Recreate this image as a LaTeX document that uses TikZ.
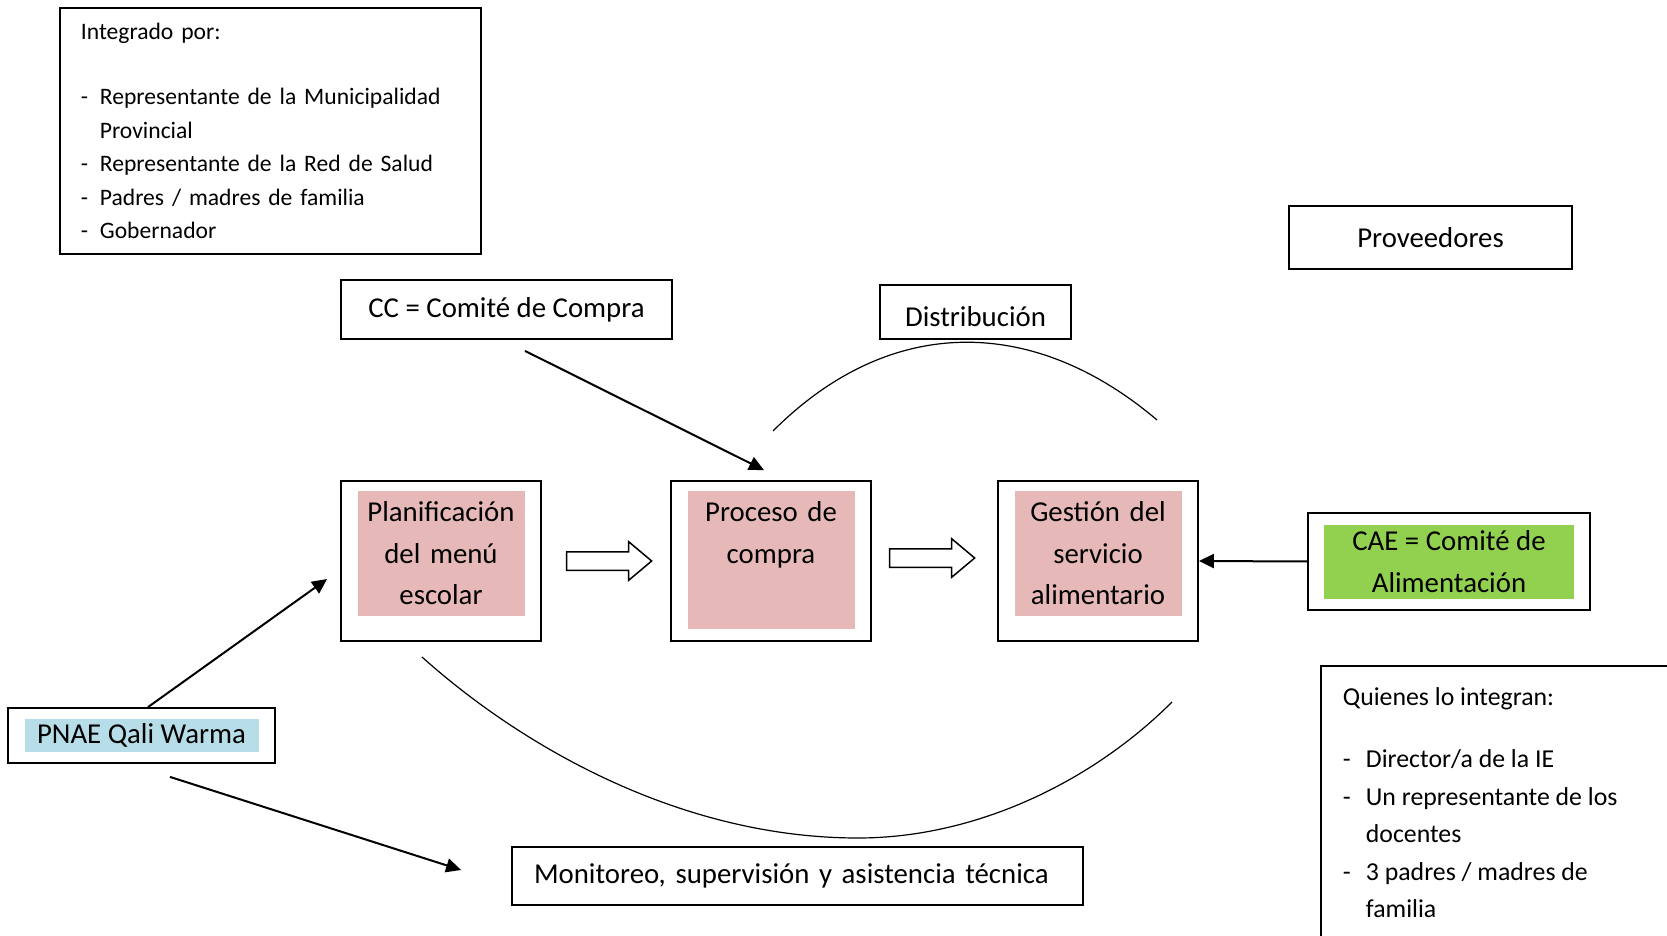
\documentclass[tikz,border=0pt]{standalone}
\usepackage{fontspec}
\setmainfont{Carlito}
\usetikzlibrary{arrows.meta,positioning,shapes.arrows}

\definecolor{rosa}{HTML}{E6B9B8}
\definecolor{celeste}{HTML}{B7DEE8}
\definecolor{verde}{HTML}{92D050}
\newcommand{\guion}[1][9.5pt]{\makebox[#1][l]{-}}
\newcommand{\sangria}[1][9.5pt]{\hspace*{#1}}
\frenchspacing

\begin{document}
\begin{tikzpicture}[x=0.5pt, y=-0.5pt, >={Triangle[length=7.5pt,width=7pt]},
  caja/.style={rectangle, draw, line width=0.9pt, font=\fontsize{14.4}{20.75}\selectfont},
  etapa/.style={caja, minimum width=100pt, minimum height=80pt},
  relleno/.style={rectangle, inner sep=0pt, align=center, font=\fontsize{14.4}{20.75}\selectfont},
  fondo/.style={relleno, fill=rosa, text width=83.5pt, minimum height=62pt},
  nota/.style={rectangle, draw, line width=0.9pt, anchor=north west, align=left},
  flecha/.style={single arrow, draw, line width=0.75pt, inner xsep=0pt, inner ysep=4.25pt, minimum height=42.5pt, single arrow head extend=5pt, single arrow tip angle=80},
  linea/.style={->, line width=1pt},
  arco/.style={line width=0.6pt}]
\useasboundingbox (0,0) rectangle (1667,936);

% etapas del servicio
\node[etapa] (plan) at (441,561) {};
\node[etapa, right=64.1pt of plan] (proc) {};
\node[etapa, right=62.6pt of proc] (gest) {};
\node[fondo, below=5.5pt of plan.north] (planin) {Planificación\\del menú\\escolar};
\node[fondo, minimum height=68.5pt, below=5.5pt of proc.north] (procin) {Proceso de\\compra\\[6.5pt]\mbox{}};
\node[fondo, below=5.5pt of gest.north] (gestin) {Gestión del\\servicio\\alimentario};
\node[flecha, right=12pt of plan] (f1) {};
\node[flecha, right=8.5pt of proc, yshift=1.5pt] (f2) {};

% actores
\node[caja, minimum width=141.5pt, minimum height=31.5pt] (prov) at (1430.5,237.5) {Proveedores};
\node[caja, minimum width=165.5pt, minimum height=29.5pt] (cc) at (506.5,309.5) {CC = Comité de Compra};
\node[caja, minimum width=95.5pt, minimum height=27pt, text height=15pt] (dist) at (975.5,312) {Distribución};
\node[caja, text width=263.5pt, inner xsep=11pt, minimum height=29pt, align=left] (moni) at (797.5,876) {Monitoreo, supervisión y asistencia técnica};
\node[caja, minimum width=133.5pt, minimum height=27.5pt] (pnae) at (141.5,735.5) {};
\node[relleno, fill=celeste, minimum width=117pt, minimum height=16.5pt] (pnaein) at (pnae.center) {PNAE Qali Warma};
\node[caja, minimum width=141pt, minimum height=48.5pt] (cae) at (1449,561.5) {};
\node[relleno, fill=verde, minimum width=125pt, minimum height=37pt] (caein) at (cae.center) {CAE = Comité de\\Alimentación};

% integrantes
\node[nota, minimum width=210.5pt, minimum height=123pt, text width=189.5pt, inner xsep=10.5pt, font=\fontsize{11.8}{16.75}\selectfont] (integ) at (59,7) {Integrado por:\\[16pt]
\guion Representante de la Municipalidad\\
\sangria Provincial\\
\guion Representante de la Red de Salud\\
\guion Padres / madres de familia\\
\guion Gobernador};
\node[nota, inner sep=11pt, font=\fontsize{12.9}{18.75}\selectfont] (quien) at (1320,665) {\parbox[t][150pt][t]{190pt}{\raggedright Quienes lo integran:\\[12.25pt]
\guion[11.5pt]Director/a de la IE\\
\guion[11.5pt]Un representante de los\\
\sangria[11.5pt]docentes\\
\guion[11.5pt]3 padres / madres de\\
\sangria[11.5pt]familia}};

% conectores
\draw[linea] ([xshift=9.25pt, yshift=-5.5pt]cc.south) -- ([xshift=-3.5pt, yshift=5pt]proc.north);
\draw[linea] ([xshift=3.25pt]pnae.north) -- ([xshift=-6.5pt, yshift=-9pt]plan.west);
\draw[linea] ([xshift=14.25pt, yshift=-6.5pt]pnae.south) -- ([xshift=-25pt, yshift=3pt]moni.west);
\draw[linea] (cae.west) -- (gest.east);

% arcos
\draw[arco] (773,431) .. controls (893,311) and (1037,318) .. (1157,420);
\draw[arco] (422,657) .. controls (519,744) and (678,838) .. (858,838)
  .. controls (978,838) and (1094,780) .. (1172,702);
\end{tikzpicture}
\end{document}
